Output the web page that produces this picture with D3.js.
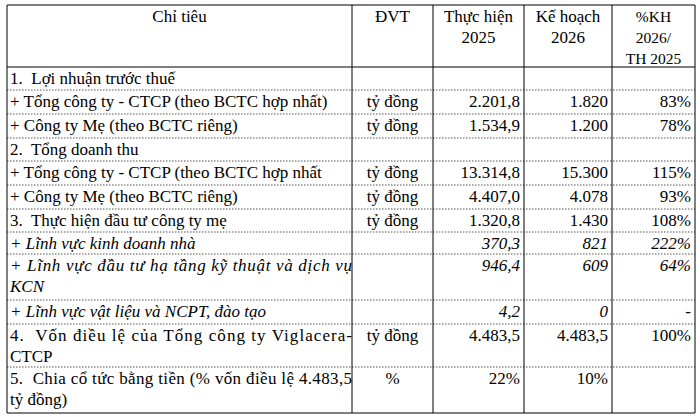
<!DOCTYPE html><html><head><meta charset="utf-8"><script src="https://cdn.jsdelivr.net/npm/d3@7"></script>
<style>body{margin:0;background:#fff}text{white-space:pre}</style></head><body><svg id="c" width="700" height="417"></svg>
<script>
const headers=[["Chỉ tiêu"],["ĐVT"],["Thực hiện","2025"],["Kế hoạch","2026"],["%KH","2026/","TH 2025"]];
const labels=[["1.  Lợi nhuận trước thuế"],["+ Tổng công ty - CTCP (theo BCTC hợp nhất)"],["+ Công ty Mẹ (theo BCTC riêng)"],["2.  Tổng doanh thu"],["+ Tổng công ty - CTCP (theo BCTC hợp nhất"],["+ Công ty Mẹ (theo BCTC riêng)"],["3.  Thực hiện đầu tư công ty mẹ"],["+ Lĩnh vực kinh doanh nhà"],["+ Lĩnh vực đầu tư hạ tầng kỹ thuật và dịch vụ","KCN"],["+ Lĩnh vực vật liệu và NCPT, đào tạo"],["4.  Vốn điều lệ của Tổng công ty Viglacera-","CTCP"],["5.  Chia cổ tức bằng tiền (% vốn điều lệ 4.483,5","tỷ đồng)"]];
const units=["","tỷ đồng","tỷ đồng","","tỷ đồng","tỷ đồng","tỷ đồng","","","","tỷ đồng","%"];
const actual2025=["","2.201,8","1.534,9","","13.314,8","4.407,0","1.320,8","370,3","946,4","4,2","4.483,5","22%"];
const plan2026=["","1.820","1.200","","15.300","4.078","1.430","821","609","0","4.483,5","10%"];
const ratio=["","83%","78%","","115%","93%","108%","222%","64%","-","100%",""];
const italic=[0,0,0,0,0,0,0,1,1,1,0,0];
const colX=[7,352,433,524,612,695];
const rowY=[5,67,90,114,138,161,185,209,232,254,300,324,367,413];
const svg=d3.select("#c"),F="'Liberation Serif','Times New Roman','DejaVu Serif',serif";
const g=svg.append("g").attr("font-family",F).attr("font-size",17).attr("fill","#000");
rowY.forEach((y,i)=>{const solid=i<=1||i==rowY.length-1;svg.append("line").attr("x1",colX[0]).attr("x2",colX[5]).attr("y1",y).attr("y2",y)
 .attr("stroke",solid?"#000":"#555").attr("stroke-width",1).attr("stroke-dasharray",solid?null:"1.5,1.5");});
colX.forEach(x=>svg.append("line").attr("x1",x).attr("x2",x).attr("y1",rowY[0]).attr("y2",rowY[rowY.length-1]).attr("stroke","#000"));
headers.forEach((h,j)=>{const cx=(colX[j]+colX[j+1])/2;
 h.forEach((t,k)=>g.append("text").attr("x",cx).attr("y",22+k*21).attr("text-anchor","middle").attr("font-size",j==4?15.5:17).text(t));});
labels.forEach((l,i)=>{const y0=rowY[i+1]+17;
 const fs=italic[i]?"italic":"normal";
 l.forEach((t,k)=>g.append("text").attr("x",colX[0]+3).attr("y",y0+k*21).attr("font-style",fs)
  .attr("textLength",(l.length>1&&k==0)?342:null).attr("lengthAdjust","spacing").text(t));
 g.append("text").attr("x",(colX[1]+colX[2])/2).attr("y",y0).attr("text-anchor","middle").text(units[i]);
 [actual2025,plan2026,ratio].forEach((arr,c)=>g.append("text").attr("x",colX[c+3]-4).attr("y",y0).attr("text-anchor","end").attr("font-style",fs).text(arr[i]));
});
</script></body></html>
